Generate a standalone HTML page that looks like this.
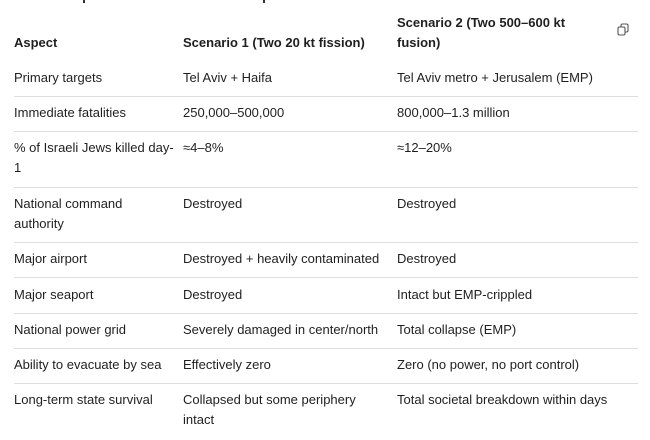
<!DOCTYPE html>
<html><head><meta charset="utf-8"><style>
html,body{margin:0;padding:0;background:#fff;width:650px;height:440px;overflow:hidden;}
body{font-family:"Liberation Sans",sans-serif;font-size:13px;color:#1f1f1f;position:relative;}
.t{position:absolute;line-height:20px;white-space:nowrap;}
.b{font-weight:bold;}
.l{position:absolute;left:14px;width:624px;height:1px;background:#dedede;}
.d{position:absolute;width:2px;height:3px;background:#333;}
</style></head><body>
<div class="d" style="left:83px;top:0"></div>
<div class="d" style="left:263px;top:0"></div>
<svg style="position:absolute;left:617px;top:23px" width="12" height="13" viewBox="0 0 12 13"><rect x="1" y="4" width="7" height="8" rx="1.5" fill="none" stroke="#555" stroke-width="1.1"/><path d="M4 4V2.5A1.5 1.5 0 0 1 5.5 1H9.5A1.5 1.5 0 0 1 11 2.5V7.5A1.5 1.5 0 0 1 9.5 9H8" fill="none" stroke="#555" stroke-width="1.1"/></svg>

<div class="t b" style="left:14px;top:33px">Aspect</div>
<div class="t b" style="left:183px;top:33px">Scenario 1 (Two 20 kt fission)</div>
<div class="t b" style="left:397px;top:13px">Scenario 2 (Two 500–600 kt<br>fusion)</div>

<div class="t" style="left:14px;top:68px">Primary targets</div>
<div class="t" style="left:183px;top:68px">Tel Aviv + Haifa</div>
<div class="t" style="left:397px;top:68px">Tel Aviv metro + Jerusalem (EMP)</div>
<div class="l" style="top:96px"></div>

<div class="t" style="left:14px;top:103px">Immediate fatalities</div>
<div class="t" style="left:183px;top:103px">250,000–500,000</div>
<div class="t" style="left:397px;top:103px">800,000–1.3 million</div>
<div class="l" style="top:131px"></div>

<div class="t" style="left:14px;top:138px">% of Israeli Jews killed day-<br>1</div>
<div class="t" style="left:183px;top:138px">≈4–8%</div>
<div class="t" style="left:397px;top:138px">≈12–20%</div>
<div class="l" style="top:187px"></div>

<div class="t" style="left:14px;top:194px">National command<br>authority</div>
<div class="t" style="left:183px;top:194px">Destroyed</div>
<div class="t" style="left:397px;top:194px">Destroyed</div>
<div class="l" style="top:242px"></div>

<div class="t" style="left:14px;top:249px">Major airport</div>
<div class="t" style="left:183px;top:249px">Destroyed + heavily contaminated</div>
<div class="t" style="left:397px;top:249px">Destroyed</div>
<div class="l" style="top:277px"></div>

<div class="t" style="left:14px;top:285px">Major seaport</div>
<div class="t" style="left:183px;top:285px">Destroyed</div>
<div class="t" style="left:397px;top:285px">Intact but EMP-crippled</div>
<div class="l" style="top:313px"></div>

<div class="t" style="left:14px;top:320px">National power grid</div>
<div class="t" style="left:183px;top:320px">Severely damaged in center/north</div>
<div class="t" style="left:397px;top:320px">Total collapse (EMP)</div>
<div class="l" style="top:348px"></div>

<div class="t" style="left:14px;top:355px">Ability to evacuate by sea</div>
<div class="t" style="left:183px;top:355px">Effectively zero</div>
<div class="t" style="left:397px;top:355px">Zero (no power, no port control)</div>
<div class="l" style="top:383px"></div>

<div class="t" style="left:14px;top:390px">Long-term state survival</div>
<div class="t" style="left:183px;top:390px">Collapsed but some periphery<br>intact</div>
<div class="t" style="left:397px;top:390px">Total societal breakdown within days</div>
</body></html>
